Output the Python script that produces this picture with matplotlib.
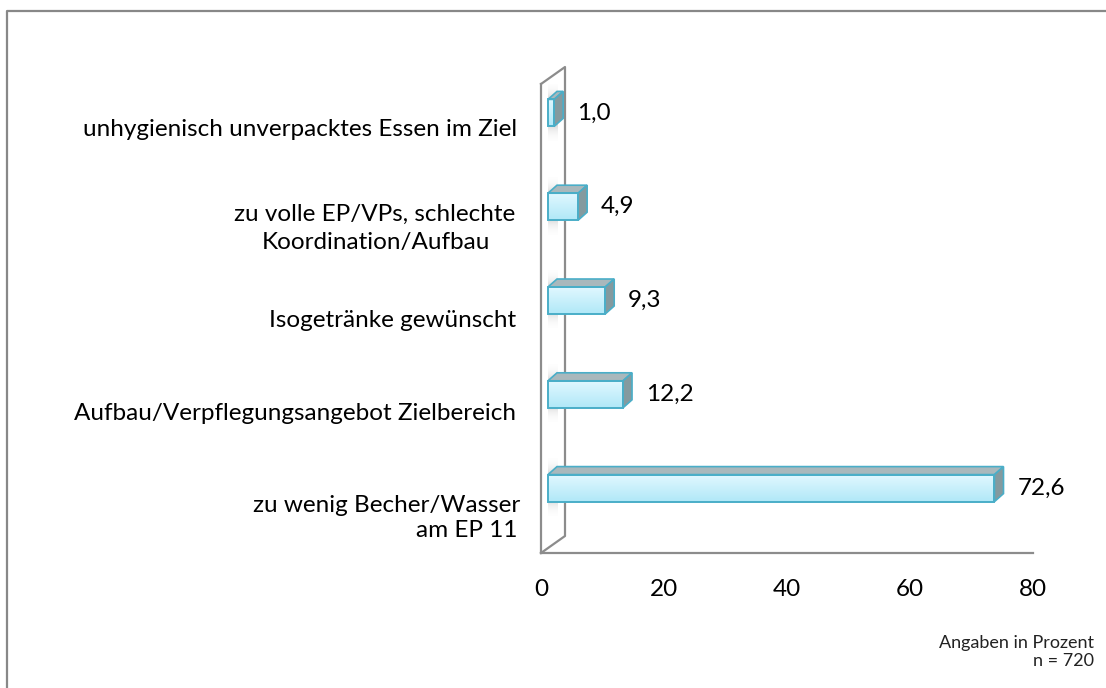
"""Excel-style 3D horizontal bar chart: complaints about catering (percent)."""

import numpy as np
import matplotlib
matplotlib.use("Agg")
import matplotlib.pyplot as plt
from matplotlib.lines import Line2D
from matplotlib.patches import Polygon, Rectangle

# data, bottom to top
CATEGORIES = [
    "zu wenig Becher/Wasser\nam EP 11",
    "Aufbau/Verpflegungsangebot Zielbereich",
    "Isogetränke gewünscht",
    "zu volle EP/VPs, schlechte\nKoordination/Aufbau",
    "unhygienisch unverpacktes Essen im Ziel",
]
VALUES = [72.6, 12.2, 9.3, 4.9, 1.0]
VALUE_LABELS = ["72,6", "12,2", "9,3", "4,9", "1,0"]
X_TICKS = [0, 20, 40, 60, 80]
NOTE = "Angaben in Prozent\nn = 720"

# layout (pixels, figure is 1106 x 688 at dpi 100)
W, H, DPI = 1106, 688, 100
AX_L, AX_R, AX_B, AX_T = 541, 1033, 553, 84
# per-line (dy from slot centre, right edge x) for category labels
LABEL_LINES = [
    [(-1, 520), (24, 517)],
    [(1, 516)],
    [(2, 516)],
    [(-10, 515), (18, 490)],
    [(-1, 517)],
]

INK = "#000000"
WALL = "#8c8c8c"
EDGE = "#4aaec8"
TOP_FACE = "#a9b8bc"
SIDE_FACE = "#849a9f"
FRONT_TOP = np.array([0.88, 0.97, 1.0])
FRONT_BOT = np.array([0.69, 0.91, 0.97])
FONT = ["Lato", "DejaVu Sans"]
FS = 17.5

fig = plt.figure(figsize=(W / DPI, H / DPI), dpi=DPI, facecolor="white")
ax = fig.add_axes([AX_L / W, (H - AX_B) / H, (AX_R - AX_L) / W, (AX_B - AX_T) / H])
ax.set_xlim(0, 80)
ax.set_ylim(-0.5, len(VALUES) - 0.5)
ax.set_facecolor("none")
for side in ax.spines.values():
    side.set_visible(False)

# pixel -> data unit factors
px_x = 80 / (AX_R - AX_L)
px_y = len(VALUES) / (AX_B - AX_T)

# wall and floor
wdx, wdy = 24 * px_x, 17 * px_y
y0, y1 = -0.5, len(VALUES) - 0.5
wall_kw = dict(color=WALL, lw=1.6, clip_on=False, solid_capstyle="projecting")
ax.add_line(Line2D([0, 0], [y0, y1], **wall_kw))
ax.add_line(Line2D([0, wdx, wdx, 0], [y1, y1 + wdy, y0 + wdy, y0], **wall_kw))
ax.add_line(Line2D([0, 80], [y0, y0], **wall_kw))

# bars on a plane slightly behind the front
bx, by = 7 * px_x, 18 * px_y
bh = 27 * px_y
ddx, ddy = 9 * px_x, 8 * px_y
grad = np.linspace(0, 1, 64)[:, None]
front_img = (FRONT_TOP[None, None, :] * (1 - grad[..., None])
             + FRONT_BOT[None, None, :] * grad[..., None])

for i, (val, lab) in enumerate(zip(VALUES, VALUE_LABELS)):
    yc = i + by
    yb, yt = yc - bh / 2, yc + bh / 2
    x0, x1 = bx, bx + val

    # soft shadow on the wall
    sy = np.linspace(-1, 1, 80)
    alpha = 0.6 * np.exp(-(sy / 0.5) ** 2)
    shade = np.zeros((80, 1, 4))
    shade[..., :3] = 0.42
    shade[:, 0, 3] = alpha
    ax.imshow(shade, extent=(x0, x0 + 10 * px_x, yc - 28 * px_y, yc + 30 * px_y),
              aspect="auto", origin="lower", zorder=1, interpolation="bilinear")

    ax.imshow(front_img, extent=(x0, x1, yb, yt), aspect="auto",
              origin="upper", zorder=3, interpolation="bilinear")
    ax.add_patch(Rectangle((x0, yb), val, bh, fill=False, ec=EDGE, lw=1.4, zorder=4))
    ax.add_patch(Polygon([(x0, yt), (x1, yt), (x1 + ddx, yt + ddy), (x0 + ddx, yt + ddy)],
                         closed=True, fc=TOP_FACE, ec=EDGE, lw=1.2, zorder=3))
    ax.add_patch(Polygon([(x1, yb), (x1, yt), (x1 + ddx, yt + ddy), (x1 + ddx, yb + ddy)],
                         closed=True, fc=SIDE_FACE, ec=EDGE, lw=1.2, zorder=3))

    ax.annotate(lab, xy=(x1, yc), xytext=(23, 0), textcoords="offset pixels",
                ha="left", va="center", fontsize=FS, family=FONT, color=INK)

# category labels, one text per line
for i, (cat, lines) in enumerate(zip(CATEGORIES, LABEL_LINES)):
    for text, (dy, right) in zip(cat.split("\n"), lines):
        ax.annotate(text, xy=(0, i), xytext=(right - AX_L, -dy),
                    textcoords="offset pixels", ha="right", va="center",
                    fontsize=FS, family=FONT, color=INK, annotation_clip=False)

ax.set_yticks([])
ax.set_xticks(X_TICKS)
ax.set_xticklabels([str(t) for t in X_TICKS], fontsize=FS, family=FONT, color=INK)
ax.tick_params(axis="x", length=0, pad=19)

fig.text(1094 / W, 1 - 652 / H, NOTE, ha="right", va="center", fontsize=13,
         family=FONT, color="#222222", multialignment="right", linespacing=1.1)

# outer frame (left and top edges)
fig.add_artist(Line2D([7 / W, 7 / W, 1.0], [0.0, 1 - 11 / H, 1 - 11 / H],
                      transform=fig.transFigure, color="#888888", lw=1.6))

fig.savefig("out.png", dpi=DPI, facecolor="white")
